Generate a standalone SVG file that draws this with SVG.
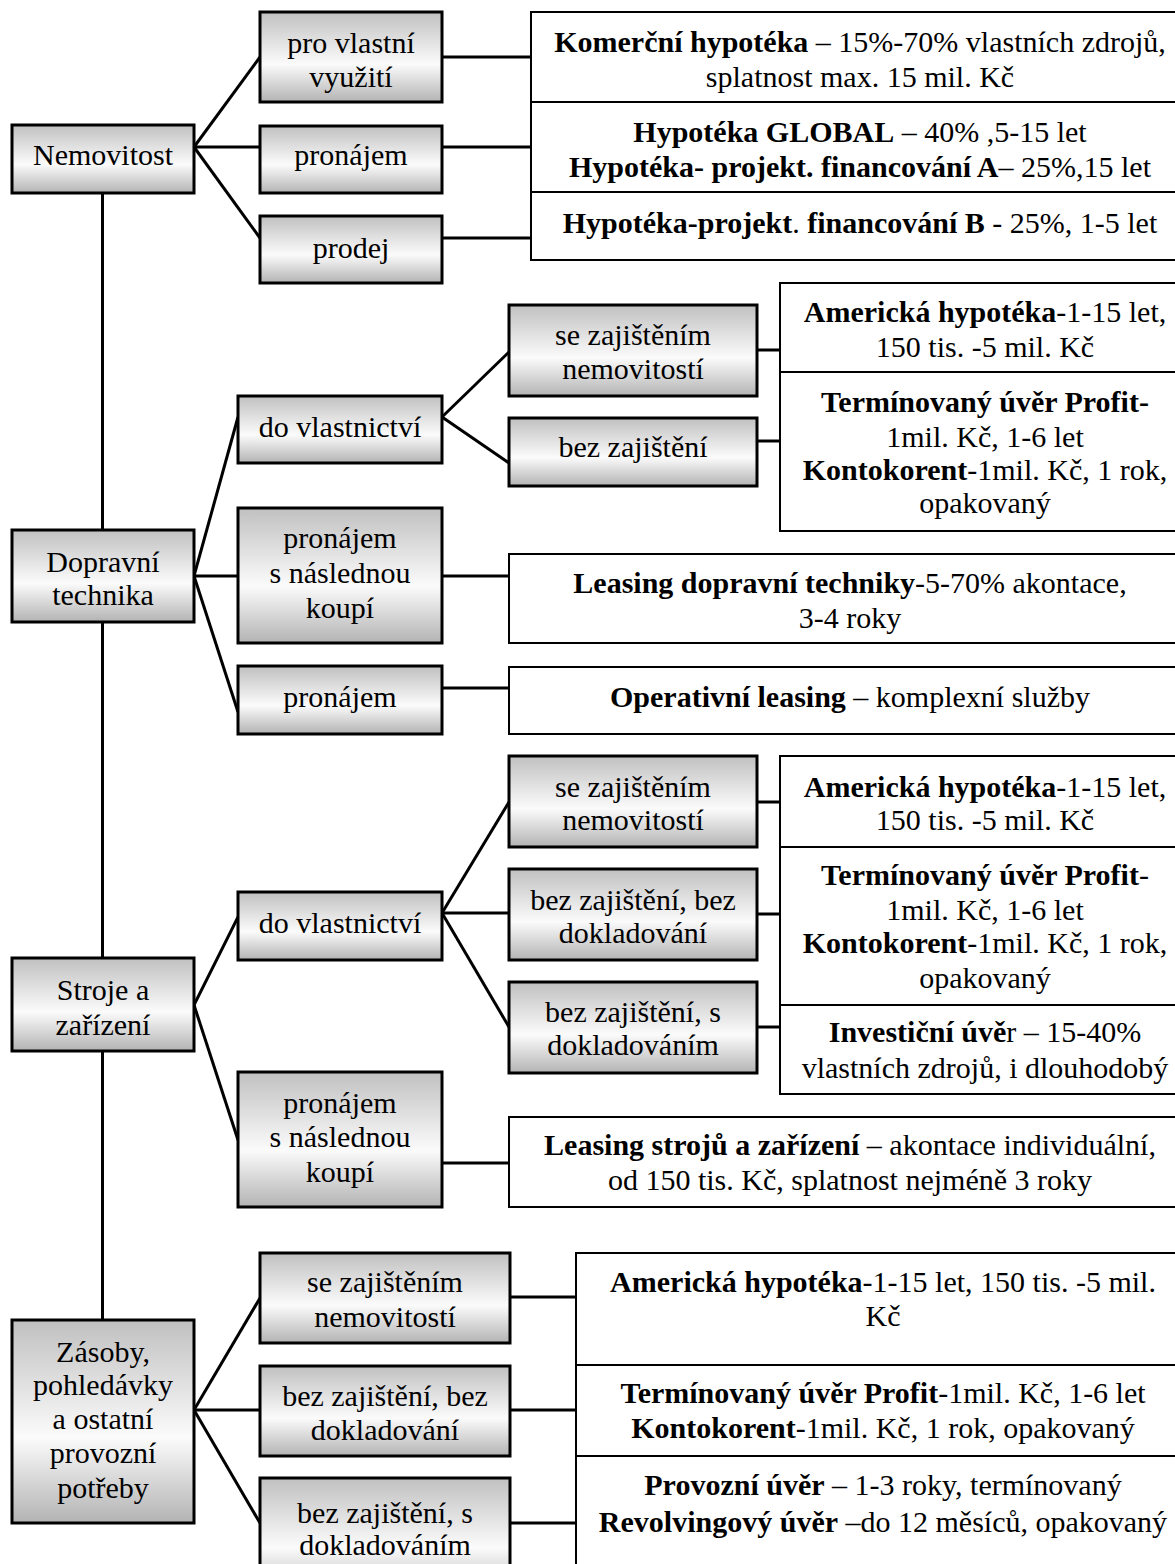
<svg xmlns="http://www.w3.org/2000/svg" width="1175" height="1564" viewBox="0 0 1175 1564">
  <defs>
    <linearGradient id="shade" x1="0" y1="0" x2="0" y2="1">
      <stop offset="0" stop-color="#c0c0c0"/>
      <stop offset="0.58" stop-color="#fbfbfb"/>
      <stop offset="1" stop-color="#b3b3b3"/>
    </linearGradient>
  </defs>
  <style>
    .box { fill: url(#shade); stroke: #000; stroke-width: 3; }
    .cell { fill: #fff; stroke: #000; stroke-width: 2; }
    .t { font-family: "Liberation Serif", "Times New Roman", serif; font-size: 30px; fill: #000; text-anchor: middle; }
    .b { font-weight: bold; }
    .ln { stroke: #000; stroke-width: 3; fill: none; }
  </style>
  <rect width="1175" height="1564" fill="#fff"/>

  <!-- connectors -->
  <g id="connectors" class="ln">
    <!-- main trunk -->
    <line x1="102.5" y1="193" x2="102.5" y2="1320"/>
    <!-- Nemovitost -->
    <line x1="194" y1="147" x2="260" y2="57"/>
    <line x1="194" y1="147" x2="260" y2="147"/>
    <line x1="194" y1="147" x2="260" y2="238"/>
    <line x1="442" y1="57" x2="531" y2="57"/>
    <line x1="442" y1="147" x2="531" y2="147"/>
    <line x1="442" y1="238" x2="531" y2="238"/>
    <!-- Dopravní technika -->
    <line x1="194" y1="576" x2="238" y2="417"/>
    <line x1="194" y1="576" x2="238" y2="576"/>
    <line x1="194" y1="576" x2="238" y2="712"/>
    <line x1="442" y1="417" x2="509" y2="352"/>
    <line x1="442" y1="417" x2="509" y2="463"/>
    <line x1="757" y1="350" x2="780" y2="350"/>
    <line x1="757" y1="441" x2="780" y2="441"/>
    <line x1="442" y1="576" x2="509" y2="576"/>
    <line x1="442" y1="688" x2="509" y2="688"/>
    <!-- Stroje a zařízení -->
    <line x1="194" y1="1005" x2="238" y2="917"/>
    <line x1="194" y1="1005" x2="238" y2="1140"/>
    <line x1="442" y1="913" x2="509" y2="802"/>
    <line x1="442" y1="913" x2="509" y2="913"/>
    <line x1="442" y1="913" x2="509" y2="1027"/>
    <line x1="757" y1="802" x2="780" y2="802"/>
    <line x1="757" y1="914" x2="780" y2="914"/>
    <line x1="757" y1="1027" x2="780" y2="1027"/>
    <line x1="442" y1="1163" x2="509" y2="1163"/>
    <!-- Zásoby -->
    <line x1="194" y1="1410" x2="260" y2="1298"/>
    <line x1="194" y1="1410" x2="260" y2="1410"/>
    <line x1="194" y1="1410" x2="260" y2="1523"/>
    <line x1="510" y1="1297" x2="576" y2="1297"/>
    <line x1="510" y1="1410" x2="576" y2="1410"/>
    <line x1="510" y1="1523" x2="576" y2="1523"/>
  </g>

  <!-- ===== Nemovitost ===== -->
  <g id="nemovitost">
    <rect class="box" x="12" y="125" width="182" height="68"/>
    <text class="t" x="103" y="165">Nemovitost</text>
  </g>
  <g id="nem-vlastni">
    <rect class="box" x="260" y="12" width="182" height="90"/>
    <text class="t" x="351" y="53">pro vlastní</text>
    <text class="t" x="351" y="87">využití</text>
  </g>
  <g id="nem-pronajem">
    <rect class="box" x="260" y="126" width="182" height="67"/>
    <text class="t" x="351" y="165">pronájem</text>
  </g>
  <g id="nem-prodej">
    <rect class="box" x="260" y="216" width="182" height="67"/>
    <text class="t" x="351" y="258">prodej</text>
  </g>
  <g id="nem-komercni">
    <rect class="cell" x="531" y="12" width="659" height="90"/>
    <text class="t" x="860" y="52"><tspan class="b">Komerční hypotéka</tspan> – 15%-70% vlastních zdrojů,</text>
    <text class="t" x="860" y="87">splatnost max. 15 mil. Kč</text>
  </g>
  <g id="nem-global">
    <rect class="cell" x="531" y="102" width="659" height="90"/>
    <text class="t" x="860" y="142"><tspan class="b">Hypotéka GLOBAL</tspan> – 40% ,5-15 let</text>
    <text class="t" x="860" y="177"><tspan class="b">Hypotéka- projekt. financování A</tspan>– 25%,15 let</text>
  </g>
  <g id="nem-projekt-b">
    <rect class="cell" x="531" y="192" width="659" height="68"/>
    <text class="t" x="860" y="233"><tspan class="b">Hypotéka-projekt</tspan>. <tspan class="b">financování B</tspan> - 25%, 1-5 let</text>
  </g>

  <!-- ===== Dopravní technika ===== -->
  <g id="doprava">
    <rect class="box" x="12" y="530" width="182" height="92"/>
    <text class="t" x="103" y="572">Dopravní</text>
    <text class="t" x="103" y="605">technika</text>
  </g>
  <g id="dop-vlastnictvi">
    <rect class="box" x="238" y="396" width="204" height="67"/>
    <text class="t" x="340" y="437">do vlastnictví</text>
  </g>
  <g id="dop-koupe">
    <rect class="box" x="238" y="508" width="204" height="135"/>
    <text class="t" x="340" y="548">pronájem</text>
    <text class="t" x="340" y="583">s následnou</text>
    <text class="t" x="340" y="618">koupí</text>
  </g>
  <g id="dop-pronajem">
    <rect class="box" x="238" y="666" width="204" height="68"/>
    <text class="t" x="340" y="707">pronájem</text>
  </g>
  <g id="dop-se-zajistenim">
    <rect class="box" x="509" y="305" width="248" height="91"/>
    <text class="t" x="633" y="345">se zajištěním</text>
    <text class="t" x="633" y="379">nemovitostí</text>
  </g>
  <g id="dop-bez-zajisteni">
    <rect class="box" x="509" y="418" width="248" height="68"/>
    <text class="t" x="633" y="457">bez zajištění</text>
  </g>
  <g id="dop-americka">
    <rect class="cell" x="780" y="283" width="410" height="89"/>
    <text class="t" x="985" y="322"><tspan class="b">Americká hypotéka</tspan>-1-15 let,</text>
    <text class="t" x="985" y="357">150 tis. -5 mil. Kč</text>
  </g>
  <g id="dop-profit">
    <rect class="cell" x="780" y="372" width="410" height="159"/>
    <text class="t" x="985" y="412"><tspan class="b">Termínovaný úvěr Profit-</tspan></text>
    <text class="t" x="985" y="447">1mil. Kč, 1-6 let</text>
    <text class="t" x="985" y="480"><tspan class="b">Kontokorent</tspan>-1mil. Kč, 1 rok,</text>
    <text class="t" x="985" y="513">opakovaný</text>
  </g>
  <g id="dop-leasing">
    <rect class="cell" x="509" y="554" width="681" height="89"/>
    <text class="t" x="850" y="593"><tspan class="b">Leasing dopravní techniky</tspan>-5-70% akontace,</text>
    <text class="t" x="850" y="628">3-4 roky</text>
  </g>
  <g id="dop-operativni">
    <rect class="cell" x="509" y="667" width="681" height="67"/>
    <text class="t" x="850" y="707"><tspan class="b">Operativní leasing</tspan> – komplexní služby</text>
  </g>

  <!-- ===== Stroje a zařízení ===== -->
  <g id="stroje">
    <rect class="box" x="12" y="958" width="182" height="93"/>
    <text class="t" x="103" y="1000">Stroje a</text>
    <text class="t" x="103" y="1035">zařízení</text>
  </g>
  <g id="str-vlastnictvi">
    <rect class="box" x="238" y="892" width="204" height="68"/>
    <text class="t" x="340" y="933">do vlastnictví</text>
  </g>
  <g id="str-koupe">
    <rect class="box" x="238" y="1072" width="204" height="135"/>
    <text class="t" x="340" y="1113">pronájem</text>
    <text class="t" x="340" y="1147">s následnou</text>
    <text class="t" x="340" y="1182">koupí</text>
  </g>
  <g id="str-se-zajistenim">
    <rect class="box" x="509" y="756" width="248" height="91"/>
    <text class="t" x="633" y="797">se zajištěním</text>
    <text class="t" x="633" y="830">nemovitostí</text>
  </g>
  <g id="str-bez-dokladovani">
    <rect class="box" x="509" y="869" width="248" height="91"/>
    <text class="t" x="633" y="910">bez zajištění, bez</text>
    <text class="t" x="633" y="943">dokladování</text>
  </g>
  <g id="str-s-dokladovanim">
    <rect class="box" x="509" y="982" width="248" height="91"/>
    <text class="t" x="633" y="1022">bez zajištění, s</text>
    <text class="t" x="633" y="1055">dokladováním</text>
  </g>
  <g id="str-americka">
    <rect class="cell" x="780" y="756" width="410" height="91"/>
    <text class="t" x="985" y="797"><tspan class="b">Americká hypotéka</tspan>-1-15 let,</text>
    <text class="t" x="985" y="830">150 tis. -5 mil. Kč</text>
  </g>
  <g id="str-profit">
    <rect class="cell" x="780" y="847" width="410" height="158"/>
    <text class="t" x="985" y="885"><tspan class="b">Termínovaný úvěr Profit</tspan>-</text>
    <text class="t" x="985" y="920">1mil. Kč, 1-6 let</text>
    <text class="t" x="985" y="953"><tspan class="b">Kontokorent</tspan>-1mil. Kč, 1 rok,</text>
    <text class="t" x="985" y="988">opakovaný</text>
  </g>
  <g id="str-investicni">
    <rect class="cell" x="780" y="1005" width="410" height="89"/>
    <text class="t" x="985" y="1042"><tspan class="b">Investiční úvě</tspan>r – 15-40%</text>
    <text class="t" x="985" y="1078">vlastních zdrojů, i dlouhodobý</text>
  </g>
  <g id="str-leasing">
    <rect class="cell" x="509" y="1117" width="681" height="90"/>
    <text class="t" x="850" y="1155"><tspan class="b">Leasing strojů a zařízení</tspan> – akontace individuální,</text>
    <text class="t" x="850" y="1190">od 150 tis. Kč, splatnost nejméně 3 roky</text>
  </g>

  <!-- ===== Zásoby, pohledávky a ostatní provozní potřeby ===== -->
  <g id="zasoby">
    <rect class="box" x="12" y="1320" width="182" height="203"/>
    <text class="t" x="103" y="1362">Zásoby,</text>
    <text class="t" x="103" y="1395">pohledávky</text>
    <text class="t" x="103" y="1429">a ostatní</text>
    <text class="t" x="103" y="1463">provozní</text>
    <text class="t" x="103" y="1498">potřeby</text>
  </g>
  <g id="zas-se-zajistenim">
    <rect class="box" x="260" y="1253" width="250" height="90"/>
    <text class="t" x="385" y="1292">se zajištěním</text>
    <text class="t" x="385" y="1327">nemovitostí</text>
  </g>
  <g id="zas-bez-dokladovani">
    <rect class="box" x="260" y="1366" width="250" height="90"/>
    <text class="t" x="385" y="1406">bez zajištění, bez</text>
    <text class="t" x="385" y="1440">dokladování</text>
  </g>
  <g id="zas-s-dokladovanim">
    <rect class="box" x="260" y="1478" width="250" height="120"/>
    <text class="t" x="385" y="1523">bez zajištění, s</text>
    <text class="t" x="385" y="1555">dokladováním</text>
  </g>
  <g id="zas-americka">
    <rect class="cell" x="576" y="1253" width="614" height="112"/>
    <text class="t" x="883" y="1292"><tspan class="b">Americká hypotéka</tspan>-1-15 let, 150 tis. -5 mil.</text>
    <text class="t" x="883" y="1326">Kč</text>
  </g>
  <g id="zas-profit">
    <rect class="cell" x="576" y="1365" width="614" height="91"/>
    <text class="t" x="883" y="1403"><tspan class="b">Termínovaný úvěr Profit</tspan>-1mil. Kč, 1-6 let</text>
    <text class="t" x="883" y="1438"><tspan class="b">Kontokorent</tspan>-1mil. Kč, 1 rok, opakovaný</text>
  </g>
  <g id="zas-provozni">
    <rect class="cell" x="576" y="1456" width="614" height="140"/>
    <text class="t" x="883" y="1495"><tspan class="b">Provozní úvěr</tspan> – 1-3 roky, termínovaný</text>
    <text class="t" x="883" y="1532"><tspan class="b">Revolvingový úvěr</tspan> –do 12 měsíců, opakovaný</text>
  </g>
</svg>
